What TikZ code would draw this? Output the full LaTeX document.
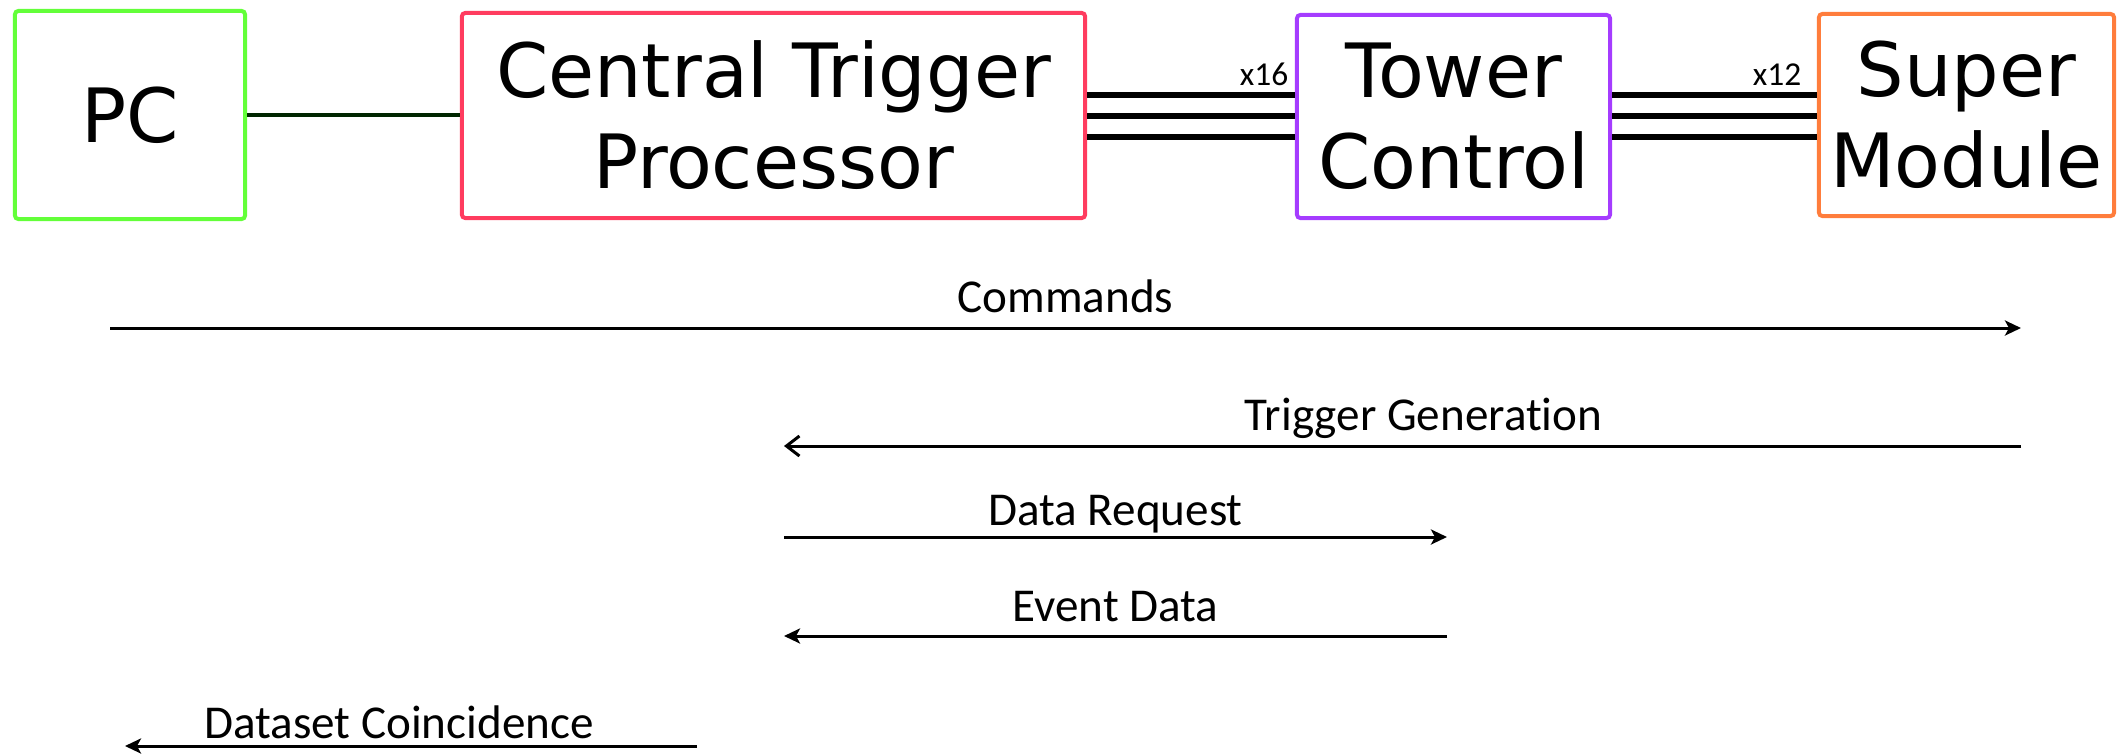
\documentclass[tikz,border=0pt]{standalone}
\usepackage{fontspec}
\setmainfont{DejaVu Sans}
\newfontfamily\labelfont[Ligatures=NoCommon]{Carlito}
\usetikzlibrary{arrows.meta}

\definecolor{pcgreen}{RGB}{99,255,57}
\definecolor{ctpred}{RGB}{255,60,95}
\definecolor{tcpurple}{RGB}{165,60,255}
\definecolor{smorange}{RGB}{255,125,60}

\begin{document}
\begin{tikzpicture}[x=0.01cm, y=-0.01cm,
    >={Stealth[length=0.16cm, width=0.15cm, inset=0.04cm]},
    unit/.style={draw, line width=0.04cm, rounded corners=1pt, align=center,
        inner sep=0pt, font=\fontsize{21.3}{25.9}\selectfont},
    bus/.style={line width=0.055cm},
    msg/.style={line width=0.03cm},
    tag/.style={font=\labelfont\fontsize{13.4}{16}\selectfont, anchor=base},
    mult/.style={font=\labelfont\fontsize{9.5}{11}\selectfont, anchor=base east, inner sep=0pt}]
\useasboundingbox (0,0) rectangle (2123,754);

% the boards
\node[unit, draw=pcgreen,  minimum width=2.30cm, minimum height=2.08cm] (pc)  at (130,115)    {PC};
\node[unit, draw=ctpred,   minimum width=6.23cm, minimum height=2.05cm] (ctp) at (773.5,115.5) {Central Trigger\\Processor};
\node[unit, draw=tcpurple, minimum width=3.13cm, minimum height=2.03cm] (tc)  at (1453.5,116.5) {Tower\\Control};
\node[unit, draw=smorange, minimum width=2.95cm, minimum height=2.02cm] (sm)  at (1966.5,115)  {Super\\Module};

% links
\draw[line width=0.04cm, black!85!green] (pc.east) -- (pc.east -| ctp.west);
\foreach \y in {95,116,137}{
    \draw[bus] (ctp.east |- 0,\y) -- (tc.west |- 0,\y);
    \draw[bus] (tc.east |- 0,\y) -- (sm.west |- 0,\y);
}
\node[mult, xshift=-0.06cm] (n16) at (tc.west |- 0,85) {x16};
\node[mult, xshift=-0.15cm] (n12) at (sm.west |- 0,85) {x12};

% message lanes
\coordinate (xpc)  at (110,0);
\coordinate (xds)  at (125,0);
\coordinate (xdse) at (697,0);
\coordinate (xctp) at (784,0);
\coordinate (xtc)  at (1447,0);
\coordinate (xsm)  at (2021,0);

\draw[msg, ->] (xpc |- 0,328) -- (xsm |- 0,328)
    node[tag, midway, yshift=0.15cm] (cmd) {Commands};
\draw[msg, -{Straight Barb[length=0.13cm, width=0.2cm]}] (xsm |- 0,446) -- (xctp |- 0,446)
    node[tag, pos=0.483, yshift=0.15cm] (trg) {Trigger Generation};
\draw[msg, ->] (xctp |- 0,537) -- (xtc |- 0,537)
    node[tag, midway, yshift=0.12cm] (req) {Data Request};
\draw[msg, ->] (xtc |- 0,636) -- (xctp |- 0,636)
    node[tag, midway, yshift=0.15cm] (evt) {Event Data};
\draw[msg, ->] (xdse |- 0,746) -- (xds |- 0,746)
    node[tag, pos=0.521, yshift=0.08cm] (dsc) {Dataset Coincidence};
\end{tikzpicture}
\end{document}
